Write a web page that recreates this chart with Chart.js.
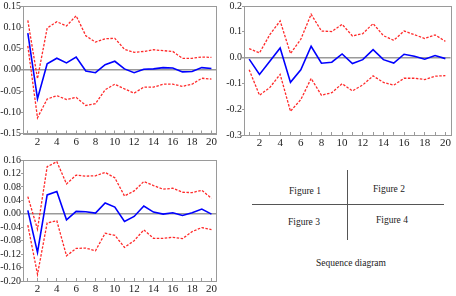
<!DOCTYPE html>
<html><head><meta charset="utf-8">
<script src="https://cdn.jsdelivr.net/npm/chart.js@4.4.0/dist/chart.umd.min.js"></script>
<style>
html,body{margin:0;padding:0;background:#fff;width:456px;height:296px;overflow:hidden;position:relative;}
canvas{position:absolute;}
#c1{left:0;top:0;} #c2{left:222px;top:0;} #c3{left:0;top:150px;}
.lbl{position:absolute;font-family:"Liberation Serif","Times New Roman",serif;font-size:9.5px;color:#222;white-space:nowrap;transform:translate(-50%,-50%);}
.ln{position:absolute;background:#555;}
</style></head><body>
<canvas id="c1" width="222" height="150"></canvas>
<canvas id="c2" width="234" height="150"></canvas>
<canvas id="c3" width="222" height="146"></canvas>
<div class="ln" style="left:252px;top:203.5px;width:192px;height:1.3px;"></div>
<div class="ln" style="left:346.7px;top:170px;width:1.3px;height:70px;"></div>
<div class="lbl" style="left:305px;top:191px;">Figure 1</div>
<div class="lbl" style="left:389px;top:188.5px;">Figure 2</div>
<div class="lbl" style="left:304px;top:222px;">Figure 3</div>
<div class="lbl" style="left:392px;top:220px;">Figure 4</div>
<div class="lbl" style="left:351px;top:263px;">Sequence diagram</div>
<script>
const periods = [1,2,3,4,5,6,7,8,9,10,11,12,13,14,15,16,17,18,19,20];
const xTickLabels = [2,4,6,8,10,12,14,16,18,20];

const fig1Response = [0.086,-0.068,0.014,0.027,0.016,0.030,-0.003,-0.007,0.012,0.020,0.002,-0.007,0.001,0.002,0.005,0.004,-0.005,-0.004,0.005,0.003];
const fig1Upper = [0.116,-0.021,0.098,0.113,0.103,0.127,0.080,0.065,0.073,0.074,0.048,0.041,0.043,0.047,0.045,0.043,0.027,0.027,0.030,0.029];
const fig1Lower = [0.056,-0.113,-0.069,-0.061,-0.070,-0.065,-0.084,-0.080,-0.047,-0.034,-0.045,-0.055,-0.041,-0.041,-0.034,-0.034,-0.039,-0.034,-0.020,-0.022];
const fig1YTicks = [-0.15,-0.10,-0.05,0.00,0.05,0.10,0.15];

const fig2Response = [-0.006,-0.065,-0.014,0.037,-0.096,-0.047,0.044,-0.022,-0.018,0.014,-0.023,-0.008,0.031,-0.008,-0.021,0.013,0.005,-0.006,0.008,-0.004];
const fig2Upper = [0.035,0.018,0.089,0.142,0.016,0.071,0.168,0.103,0.101,0.129,0.084,0.093,0.132,0.085,0.067,0.103,0.089,0.074,0.088,0.063];
const fig2Lower = [-0.047,-0.146,-0.116,-0.065,-0.208,-0.163,-0.081,-0.146,-0.136,-0.101,-0.129,-0.106,-0.071,-0.096,-0.107,-0.080,-0.080,-0.085,-0.072,-0.070];
const fig2YTicks = [-0.3,-0.2,-0.1,0.0,0.1,0.2];

const fig3Response = [0.010,-0.115,0.056,0.066,-0.018,0.007,0.006,0.002,0.032,0.020,-0.023,-0.008,0.023,0.005,-0.001,0.003,-0.005,0.003,0.014,-0.001];
const fig3Upper = [0.051,-0.046,0.140,0.155,0.089,0.115,0.112,0.113,0.123,0.107,0.053,0.068,0.096,0.084,0.073,0.076,0.064,0.063,0.070,0.046];
const fig3Lower = [-0.034,-0.180,-0.027,-0.021,-0.125,-0.103,-0.102,-0.110,-0.058,-0.064,-0.100,-0.080,-0.048,-0.073,-0.073,-0.070,-0.074,-0.053,-0.041,-0.047];
const fig3YTicks = [-0.20,-0.16,-0.12,-0.08,-0.04,0.00,0.04,0.08,0.12,0.16];

const AXIS = '#9a9a9a';
const XFONT = {family:'"Liberation Serif","Times New Roman",serif', size:11};
const YFONT = {family:'"Liberation Serif","Times New Roman",serif', size:10};

const framePlugin = {
  id:'frame',
  beforeDatasetsDraw(chart){
    const a = chart.chartArea, ctx = chart.ctx;
    ctx.save();
    ctx.strokeStyle = AXIS; ctx.lineWidth = 1;
    ctx.strokeRect(Math.round(a.left)+0.5, Math.round(a.top)+0.5, Math.round(a.right-a.left), Math.round(a.bottom-a.top));
    ctx.restore();
  }
};

function pts(arr){ return periods.map((p,i)=>({x:p,y:arr[i]})); }

function make(id, resp, up, low, yTicks, decimals, lay){
  new Chart(document.getElementById(id), {
    type:'line',
    data:{datasets:[
      {data:pts(up), borderColor:'#ff2a2a', borderWidth:1.3, borderDash:[2.5,1.5], pointRadius:0, tension:0, fill:false},
      {data:pts(low), borderColor:'#ff2a2a', borderWidth:1.3, borderDash:[2.5,1.5], pointRadius:0, tension:0, fill:false},
      {data:pts(resp), borderColor:'#0000ff', borderWidth:1.6, pointRadius:0, tension:0, fill:false}
    ]},
    options:{
      responsive:false, animation:false, devicePixelRatio:1,
      layout:{padding:{top:lay.top, right:lay.right, left:0, bottom:0}},
      plugins:{legend:{display:false}, tooltip:{enabled:false}},
      scales:{
        x:{type:'linear', min:0.5, max:20.5,
          afterBuildTicks(s){ s.ticks = periods.map(v=>({value:v})); },
          afterFit(s){ s.height = lay.xH; },
          grid:{drawOnChartArea:false, drawTicks:true, tickLength:-3, tickColor:AXIS},
          border:{display:true, color:AXIS, width:1},
          ticks:{font:XFONT, color:'#222', padding:lay.xPad, maxRotation:0, autoSkip:false,
            callback(v){ return xTickLabels.includes(v) ? String(v) : ''; }}
        },
        y:{min:yTicks[0], max:yTicks[yTicks.length-1],
          afterBuildTicks(s){ s.ticks = yTicks.map(v=>({value:v})); },
          afterFit(s){ s.width = lay.yW; },
          grid:{drawOnChartArea:true, drawTicks:true, tickLength:2, tickColor:AXIS,
            color(c){ return (c.tick && Math.abs(c.tick.value)<1e-9) ? AXIS : 'rgba(0,0,0,0)'; },
            lineWidth(c){ return (c.tick && Math.abs(c.tick.value)<1e-9) ? 1.5 : 1; }},
          border:{display:true, color:AXIS, width:1},
          ticks:{font:YFONT, color:'#222', padding:0, autoSkip:false,
            callback(v){ return v.toFixed(decimals); }}
        }
      }
    },
    plugins:[framePlugin]
  });
}

make('c1', fig1Response, fig1Upper, fig1Lower, fig1YTicks, 2, {top:6, right:3, xH:16.5, yW:23, xPad:5});
make('c2', fig2Response, fig2Upper, fig2Lower, fig2YTicks, 1, {top:5, right:5, xH:15, yW:22, xPad:5});
make('c3', fig3Response, fig3Upper, fig3Lower, fig3YTicks, 2, {top:10, right:1, xH:15, yW:23, xPad:5});
</script>
</body></html>
